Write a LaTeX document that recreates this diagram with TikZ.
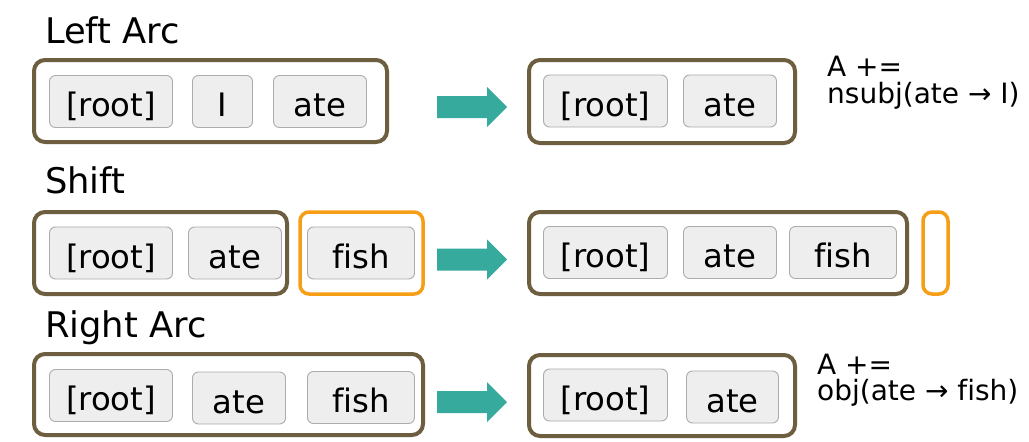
\documentclass[tikz,border=0pt]{standalone}
\usepackage{fontspec}
\setmainfont[Ligatures=CommonOff]{DejaVu Sans}
\definecolor{stackbrown}{RGB}{108,94,62}
\definecolor{bufferorange}{RGB}{245,158,22}
\definecolor{moveteal}{RGB}{53,170,157}
\definecolor{wordfill}{RGB}{238,238,238}
\definecolor{wordline}{RGB}{172,172,172}
\begin{document}
\begin{tikzpicture}[x=1pt,y=-1pt,
  stack/.style={draw=stackbrown, line width=4pt, rounded corners=11pt, inner sep=0pt, fill=white},
  buffer/.style={draw=bufferorange, line width=3.5pt, rounded corners=9pt, inner sep=0pt, fill=white},
  word/.style={draw=wordline, fill=wordfill, line width=0.9pt, rounded corners=6pt, inner sep=0pt,
    minimum height=52pt, text height=30pt, text depth=0pt,
    font=\fontsize{32.3}{38}\selectfont},
  title/.style={anchor=base west, inner sep=0pt, font=\fontsize{35.3}{42}\selectfont},
  note/.style={anchor=base west, inner sep=0pt, font=\fontsize{28}{33}\selectfont},
  blockarrow/.pic={\fill[moveteal] (0,-11) -- (50,-11) -- (50,-20) -- (70,0) -- (50,20) -- (50,11) -- (0,11) -- cycle;}
]
\useasboundingbox (0,0) rectangle (1029,442);
\fill[white] (0,0) rectangle (1029,442);

% ---------- Left Arc ----------
\node[title] (t-left) at (45,43) {Left Arc};
\node[stack, minimum width=353pt, minimum height=82pt] (la-stack) at (210.5,101) {};
\node[word, minimum width=123pt] (la-root) at (111,101.5) {[root]};
\node[word, minimum width=60pt] (la-i) at (222.5,101.5) {I};
\node[word, minimum width=93pt] (la-ate) at (320,101.5) {ate};
\pic at (437,107) {blockarrow};
\node[stack, minimum width=266pt, minimum height=83pt] (la-stack2) at (662,101.5) {};
\node[word, minimum width=124pt] (la-root2) at (605.5,101) {[root]};
\node[word, minimum width=93pt] (la-ate2) at (730,101) {ate};
\node[note] (la-a) at (827,76) {A +=};
\node[note] (la-rel) at (827,103) {nsubj(ate → I)};

% ---------- Shift ----------
\node[title] (t-shift) at (45,193) {Shift};
\node[stack, minimum width=253pt, minimum height=82pt] (sh-stack) at (160.5,253) {};
\node[word, minimum width=123pt] (sh-root) at (111,253) {[root]};
\node[word, minimum width=93pt] (sh-ate) at (235,253) {ate};
\node[buffer, minimum width=123pt, minimum height=82pt] (sh-buf) at (361.5,253) {};
\node[word, minimum width=107pt] (sh-fish) at (361,253) {fish};
\pic at (437,259.5) {blockarrow};
\node[stack, minimum width=378pt, minimum height=82pt] (sh-stack2) at (718,253) {};
\node[word, minimum width=124pt] (sh-root2) at (605.5,252.5) {[root]};
\node[word, minimum width=93pt] (sh-ate2) at (730,252.5) {ate};
\node[word, minimum width=107pt] (sh-fish2) at (843,252.5) {fish};
\node[buffer, minimum width=25pt, minimum height=82pt] (sh-buf2) at (935.5,253) {};

% ---------- Right Arc ----------
\node[title] (t-right) at (45,337) {Right Arc};
\node[stack, minimum width=389pt, minimum height=81pt] (ra-stack) at (228.5,394.5) {};
\node[word, minimum width=123pt] (ra-root) at (111,395.5) {[root]};
\node[word, minimum width=93pt] (ra-ate) at (239,398) {ate};
\node[word, minimum width=107pt] (ra-fish) at (361,397.5) {fish};
\pic at (437,402) {blockarrow};
\node[stack, minimum width=266pt, minimum height=81pt] (ra-stack2) at (662,395.5) {};
\node[word, minimum width=124pt] (ra-root2) at (605.5,395) {[root]};
\node[word, minimum width=92pt] (ra-ate2) at (732.5,397) {ate};
\node[note] (ra-a) at (817,374) {A +=};
\node[note] (ra-rel) at (817,400) {obj(ate → fish)};
\end{tikzpicture}
\end{document}
